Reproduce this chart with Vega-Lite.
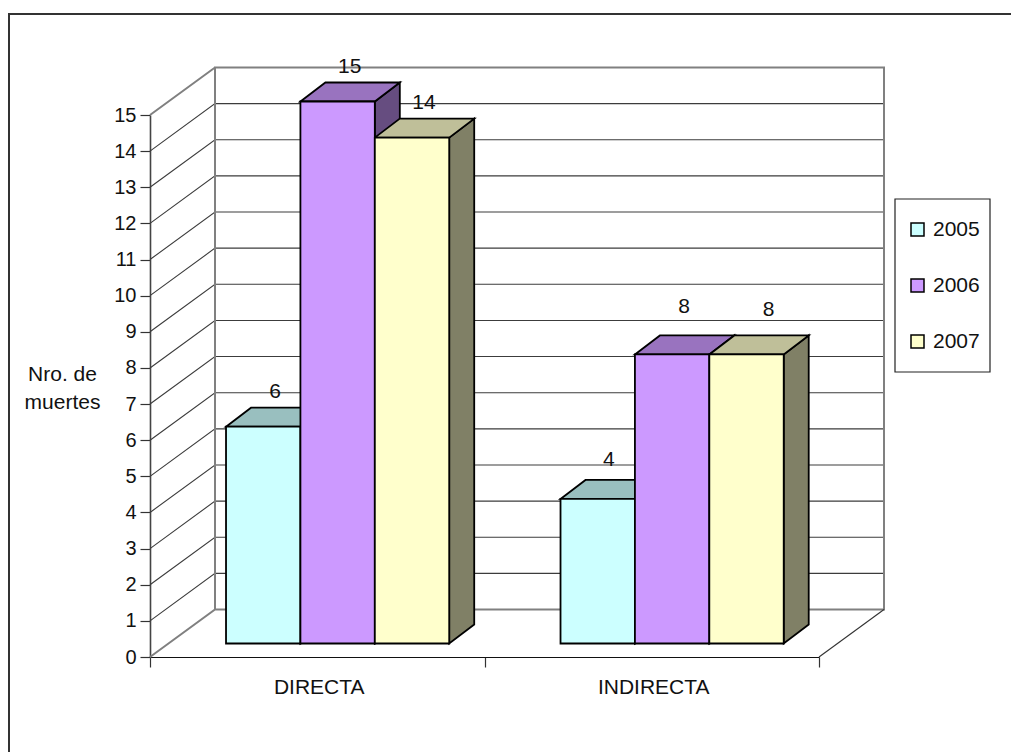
{
  "$schema": "https://vega.github.io/schema/vega-lite/v6.json",
  "width": 669,
  "height": 542,
  "autosize": "none",
  "padding": {"left": 150, "top": 115, "right": 192, "bottom": 95},
  "background": "#ffffff",
  "config": {
    "view": {"stroke": null},
    "font": "Liberation Sans",
    "text": {"font": "Liberation Sans", "fontSize": 21, "color": "#111111", "baseline": "middle", "align": "center"}
  },
  "datasets": {
    "muertes": [
      {"causa": "DIRECTA", "anio": "2005", "muertes": 6},
      {"causa": "DIRECTA", "anio": "2006", "muertes": 15},
      {"causa": "DIRECTA", "anio": "2007", "muertes": 14},
      {"causa": "INDIRECTA", "anio": "2005", "muertes": 4},
      {"causa": "INDIRECTA", "anio": "2006", "muertes": 8},
      {"causa": "INDIRECTA", "anio": "2007", "muertes": 8}
    ],
    "escala": [
      {"valor": 0}, {"valor": 1}, {"valor": 2}, {"valor": 3}, {"valor": 4}, {"valor": 5}, {"valor": 6}, {"valor": 7},
      {"valor": 8}, {"valor": 9}, {"valor": 10}, {"valor": 11}, {"valor": 12}, {"valor": 13}, {"valor": 14}, {"valor": 15}
    ]
  },
  "layer": [
    {
      "description": "Outer chart frame: top and left edges only; also carries the value axis",
      "data": {"name": "escala"},
      "transform": [{"filter": "datum.valor == 0"}],
      "mark": {"type": "point", "filled": false, "opacity": 1, "size": 4, "stroke": "#333333", "strokeWidth": 2, "shape": "M-141,100V-643H870"},
      "encoding": {
        "x": {"datum": "DIRECTA", "type": "nominal", "bandPosition": 0, "scale": {"domain": ["DIRECTA", "INDIRECTA"], "paddingInner": 0, "paddingOuter": 0}},
        "y": {"field": "valor", "type": "quantitative", "scale": {"domain": [0, 15], "nice": false, "zero": true}, "axis": {
          "values": [0, 1, 2, 3, 4, 5, 6, 7, 8, 9, 10, 11, 12, 13, 14, 15],
          "tickCount": 16, "labelOverlap": false, "labelBound": false,
          "grid": false, "labelFontSize": 20, "labelFont": "Liberation Sans", "labelColor": "#111111",
          "labelPadding": 4, "tickSize": 10, "tickColor": "#333333", "tickWidth": 1.2,
          "domainColor": "#444444", "domainWidth": 1.6,
          "title": ["Nro. de", "muertes"], "titleAngle": 0, "titleFontSize": 21, "titleFontWeight": "normal",
          "titleFont": "Liberation Sans", "titleColor": "#111111", "titleAlign": "center", "titleBaseline": "top",
          "titleX": -88, "titleY": 248, "titleLineHeight": 28
        }}
      }
    },
    {
      "description": "Gridlines running along the side wall and across the back wall",
      "data": {"name": "escala"},
      "transform": [{"filter": "datum.valor > 0 && datum.valor < 15"}],
      "mark": {"type": "point", "filled": false, "opacity": 1, "size": 4, "stroke": "#3c3c3c", "strokeWidth": 1.1, "shape": "M0,0L65,-47.5L734,-47.5"},
      "encoding": {
        "x": {"datum": "DIRECTA", "type": "nominal", "bandPosition": 0},
        "y": {"field": "valor", "type": "quantitative"}
      }
    },
    {
      "description": "Wall and floor outlines",
      "data": {"name": "escala"},
      "transform": [{"filter": "datum.valor == 0"}],
      "mark": {"type": "point", "filled": false, "opacity": 1, "size": 4, "stroke": "#808080", "strokeWidth": 2, "shape": "M0,0L65,-47.5L734,-47.5V-589.5H65V-47.5M0,-542L65,-589.5"},
      "encoding": {
        "x": {"datum": "DIRECTA", "type": "nominal", "bandPosition": 0},
        "y": {"field": "valor", "type": "quantitative"}
      }
    },
    {
      "description": "Front-right floor edge",
      "data": {"name": "escala"},
      "transform": [{"filter": "datum.valor == 0"}],
      "mark": {"type": "point", "filled": false, "opacity": 1, "size": 4, "stroke": "#333333", "strokeWidth": 1.1, "shape": "M669,0L734,-47.5"},
      "encoding": {
        "x": {"datum": "DIRECTA", "type": "nominal", "bandPosition": 0},
        "y": {"field": "valor", "type": "quantitative"}
      }
    },
    {
      "description": "Legend box",
      "data": {"name": "escala"},
      "transform": [{"filter": "datum.valor == 0"}],
      "mark": {"type": "point", "filled": false, "opacity": 1, "size": 4, "stroke": "#222222", "strokeWidth": 1.2, "shape": "M745,-458H840V-285H745Z"},
      "encoding": {
        "x": {"datum": "DIRECTA", "type": "nominal", "bandPosition": 0},
        "y": {"field": "valor", "type": "quantitative"}
      }
    },
    {
      "description": "The 3D columns and their value labels",
      "data": {"name": "muertes"},
      "encoding": {
        "x": {"field": "causa", "type": "nominal"},
        "xOffset": {"field": "anio", "type": "nominal", "scale": {"domain": ["2005", "2006", "2007"], "paddingInner": 0, "paddingOuter": 0.748, "align": 0.683}},
        "y": {"field": "muertes", "type": "quantitative"}
      },
      "resolve": {"scale": {"fill": "independent"}},
      "layer": [
        {
          "description": "Right-hand side of each column, its height following the value",
          "mark": {"type": "point", "filled": true, "opacity": 1, "size": 4, "stroke": "#000000", "strokeWidth": 1.8},
          "encoding": {
            "fill": {"field": "anio", "type": "nominal", "legend": null, "scale": {"domain": ["2005", "2006", "2007"], "range": ["#668080", "#664d80", "#808066"]}},
            "shape": {"field": "muertes", "type": "ordinal", "legend": null, "scale": {
              "domain": [4, 6, 8, 14, 15],
              "range": [
                "M37.2,-13.5L62.2,-32.5V112L37.2,131Z",
                "M37.2,-13.5L62.2,-32.5V184.3L37.2,203.3Z",
                "M37.2,-13.5L62.2,-32.5V256.5L37.2,275.5Z",
                "M37.2,-13.5L62.2,-32.5V473.3L37.2,492.3Z",
                "M37.2,-13.5L62.2,-32.5V509.5L37.2,528.5Z"
              ]
            }}
          }
        },
        {
          "description": "Top face of each column",
          "mark": {"type": "point", "filled": true, "opacity": 1, "size": 4, "stroke": "#000000", "strokeWidth": 1.8, "shape": "M-37.2,-13.5L-12.2,-32.5H62.2L37.2,-13.5Z"},
          "encoding": {
            "fill": {"field": "anio", "type": "nominal", "legend": null, "scale": {"domain": ["2005", "2006", "2007"], "range": ["#99bfbf", "#9973bf", "#bfbf99"]}}
          }
        },
        {
          "description": "Front face of each column, carrying the category axis and the legend",
          "mark": {"type": "bar", "stroke": "#000000", "strokeWidth": 1.8, "yOffset": -13.5, "y2Offset": -13.5},
          "encoding": {
            "x": {"field": "causa", "type": "nominal", "axis": {
              "title": null, "labelAngle": 0, "labelAlign": "center", "labelFontSize": 21, "labelFont": "Liberation Sans", "labelColor": "#111111",
              "labelPadding": 20, "labelOffset": 1.5, "tickBand": "extent", "tickSize": 10, "tickColor": "#333333", "tickWidth": 1.2,
              "domainColor": "#111111", "domainWidth": 1.2
            }},
            "y2": {"datum": 0},
            "fill": {"field": "anio", "type": "nominal", "scale": {"domain": ["2005", "2006", "2007"], "range": ["#ccffff", "#cc99ff", "#ffffcc"]}, "legend": {
              "title": null, "orient": "none", "legendX": 757, "legendY": 104, "direction": "vertical", "padding": 0,
              "symbolType": "square", "symbolSize": 169, "symbolStrokeColor": "#000000", "symbolStrokeWidth": 1.5,
              "labelFontSize": 21, "labelFont": "Liberation Sans", "labelColor": "#111111", "labelOffset": 5, "rowPadding": 34
            }}
          }
        },
        {
          "transform": [{"filter": "datum.muertes == 6 || datum.muertes >= 14"}],
          "mark": {"type": "text", "dx": 12, "dy": -48.5},
          "encoding": {"text": {"field": "muertes", "type": "quantitative"}}
        },
        {
          "transform": [{"filter": "datum.muertes == 4"}],
          "mark": {"type": "text", "dx": 11, "dy": -52},
          "encoding": {"text": {"field": "muertes", "type": "quantitative"}}
        },
        {
          "transform": [{"filter": "datum.muertes == 8 && datum.anio == '2006'"}],
          "mark": {"type": "text", "dx": 12, "dy": -61},
          "encoding": {"text": {"field": "muertes", "type": "quantitative"}}
        },
        {
          "transform": [{"filter": "datum.muertes == 8 && datum.anio == '2007'"}],
          "mark": {"type": "text", "dx": 22, "dy": -58},
          "encoding": {"text": {"field": "muertes", "type": "quantitative"}}
        }
      ]
    }
  ]
}
